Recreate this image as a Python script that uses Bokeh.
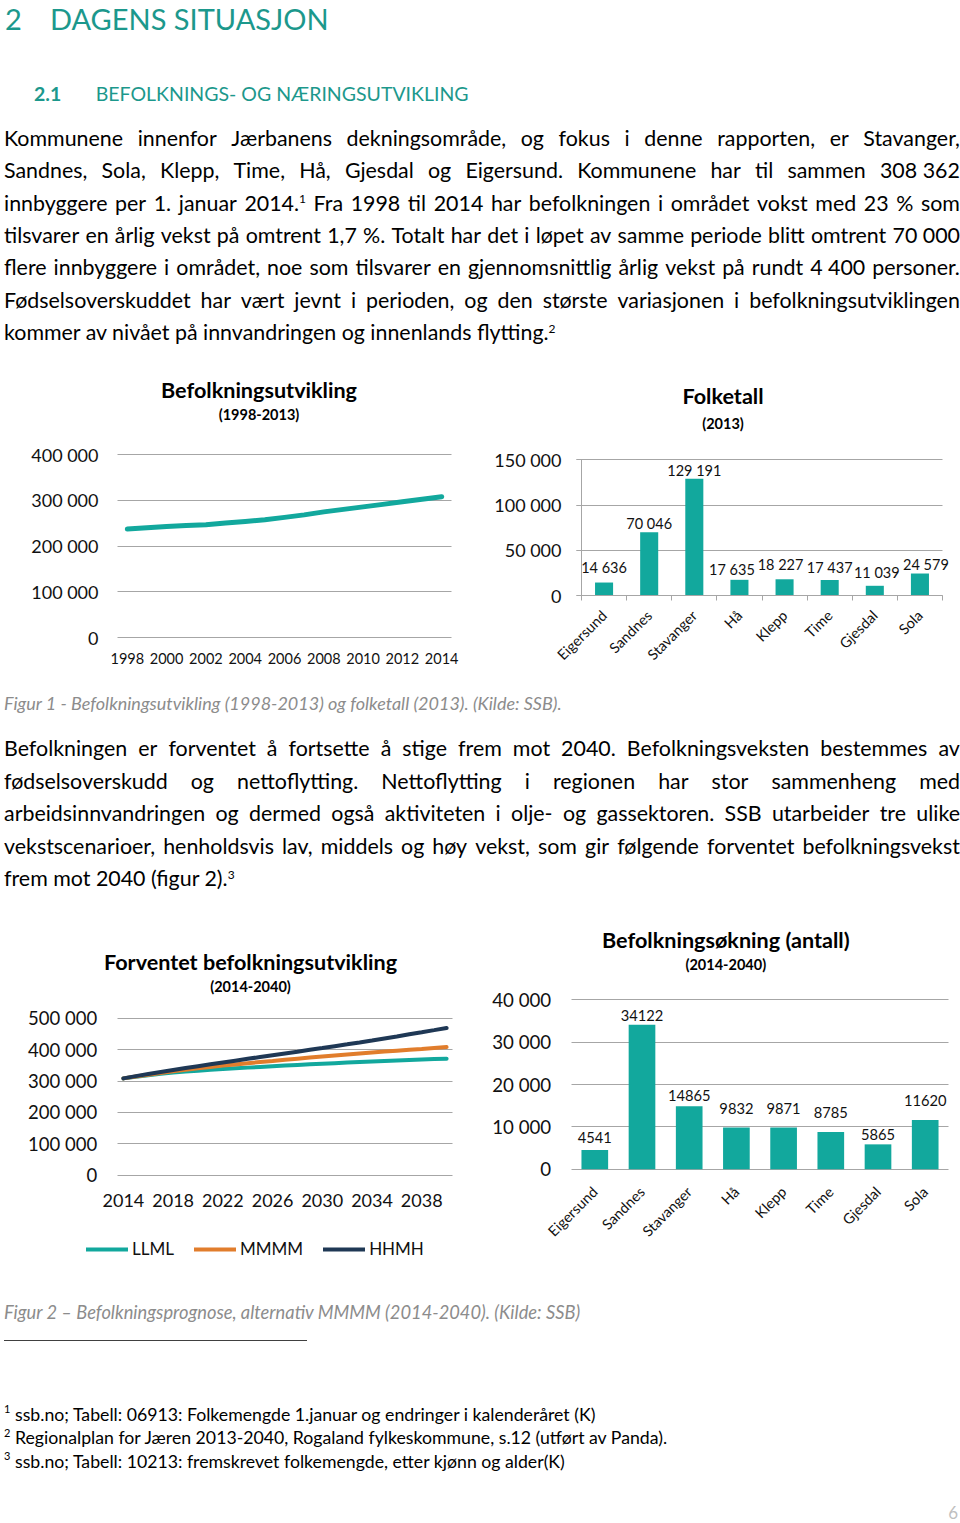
import math
from bokeh.plotting import figure
from bokeh.layouts import column, row
from bokeh.models import (Div, Range1d, FixedTicker, Label, LabelSet, ColumnDataSource,
                          Legend, LegendItem)
from bokeh.core.properties import value
from bokeh.embed import file_html
from bokeh.resources import INLINE

# ---------------- data ----------------
years1 = list(range(1998, 2015))
pop1 = [237500, 240500, 243000, 245000, 247000, 250500, 254000, 258000, 263000,
        268500, 275000, 280500, 286000, 291500, 297000, 302500, 308362]
x1_ticks = [1998, 2000, 2002, 2004, 2006, 2008, 2010, 2012, 2014]
y1_ticks = [0, 100000, 200000, 300000, 400000]
y1_labels = ["0", "100 000", "200 000", "300 000", "400 000"]

cats = ["Eigersund", "Sandnes", "Stavanger", "Hå", "Klepp", "Time", "Gjesdal", "Sola"]
folketall = [14636, 70046, 129191, 17635, 18227, 17437, 11039, 24579]
y2_ticks = [0, 50000, 100000, 150000]
y2_labels = ["0", "50 000", "100 000", "150 000"]

years3 = list(range(2014, 2041))
llml = [308362, 313600, 318500, 322900, 326900, 329900, 332800, 335500, 338000, 340300,
        342600, 344800, 346900, 349000, 351000, 353000, 355000, 356800, 358600, 360400,
        362100, 363700, 365300, 366800, 368300, 369800, 371200]
mmmm = [308362, 314300, 320000, 325600, 331000, 335800, 340400, 344800, 349000, 352900,
        356800, 360500, 364000, 367600, 371100, 374600, 378000, 381400, 384700, 387900,
        391000, 393900, 396700, 399400, 402000, 405000, 408000]
hhmh = [308362, 315500, 322300, 328800, 335000, 341100, 347100, 353100, 359000, 364800,
        370600, 376300, 382000, 387700, 393400, 399200, 405000, 410900, 416800, 422800,
        428900, 435400, 441900, 448600, 455300, 462100, 469000]
series3 = ["LLML", "MMMM", "HHMH"]
x3_ticks = [2014, 2018, 2022, 2026, 2030, 2034, 2038]
y3_ticks = [0, 100000, 200000, 300000, 400000, 500000]
y3_labels = ["0", "100 000", "200 000", "300 000", "400 000", "500 000"]

okning = [4541, 34122, 14865, 9832, 9871, 8785, 5865, 11620]
y4_ticks = [0, 10000, 20000, 30000, 40000]
y4_labels = ["0", "10 000", "20 000", "30 000", "40 000"]

# ---------------- style ----------------
TEAL = "#12A89D"
HEAD = "#1C988C"
ORANGE = "#E17D2C"
NAVY = "#1F3855"
GRID = "#A6A6A6"
INK = "#111111"
CAPTION = "#8C8C8C"
FONT = "Lato"
PAGE_W = 960

# bar value label nudges (pixels), as placed in the original
lab2_dx = [0, 0, 0, -7.5, -4, 0, 2, 6]
lab2_dy = [9.3, 3, 2.6, 4.7, 9.3, 6.7, 7.3, 3.3]
lab4_dy = [7, 4, 5.7, 13.8, 13.8, 13.5, 3.9, 13.8]

TITLE_LIFT = 7.5     # px correction for chart title baselines
SUB_LIFT = 5.0       # px correction for chart subtitle baselines


def lin(p0, v0, p1, v1):
    return lambda px: v0 + (px - p0) * (v1 - v0) / (p1 - p0)


def style_axis(ax, size, standoff):
    ax.axis_line_color = None
    ax.major_tick_line_color = None
    ax.minor_tick_line_color = None
    ax.major_tick_in = 0
    ax.major_tick_out = 0
    ax.minor_tick_in = 0
    ax.minor_tick_out = 0
    ax.major_label_text_font = FONT
    ax.major_label_text_font_size = size
    ax.major_label_text_color = INK
    ax.major_label_standoff = standoff


def make_fig(w, h, fx, fy):
    p = figure(width=w, height=h, x_range=Range1d(fx(0), fx(w)), y_range=Range1d(fy(h), fy(0)),
               output_backend="svg", toolbar_location=None,
               min_border_left=0, min_border_right=0, min_border_top=0, min_border_bottom=0)
    p.outline_line_color = None
    p.background_fill_color = "white"
    p.border_fill_color = "white"
    p.xgrid.visible = False
    p.ygrid.grid_line_color = GRID
    p.ygrid.grid_line_width = 1
    return p


def add_titles(p, fx, fy, xc, b1, t1, b2, t2):
    p.add_layout(Label(x=fx(xc), y=fy(b1 - TITLE_LIFT), text=t1, text_align="center",
                       text_baseline="alphabetic", text_font=FONT, text_font_style="bold",
                       text_font_size="21.6px", text_color="#000000"))
    p.add_layout(Label(x=fx(xc), y=fy(b2 - SUB_LIFT), text=t2, text_align="center",
                       text_baseline="alphabetic", text_font=FONT, text_font_style="bold",
                       text_font_size="14.5px", text_color="#000000"))


def fmt_space(v):
    return f"{v:,}".replace(",", " ")


# ---------------- chart 1 (local pixels: x = page x, y = page y - 355) ----------------
fx1 = lin(117, 1997.5, 451, 2014.5)
fy1 = lin(282, 0, 99.3, 400000)
p1 = make_fig(480, 330, fx1, fy1)
p1.line(years1, pop1, line_color=TEAL, line_width=5, line_cap="round", line_join="round")
p1.ygrid.cross_bounds = (1997.5, 2014.5)
ya1 = p1.yaxis[0]
ya1.ticker = FixedTicker(ticks=y1_ticks)
ya1.major_label_overrides = dict(zip(y1_ticks, y1_labels))
ya1.fixed_location = 1997.5
style_axis(ya1, "18px", 19)
xa1 = p1.xaxis[0]
xa1.ticker = FixedTicker(ticks=x1_ticks)
xa1.fixed_location = 0
style_axis(xa1, "14.5px", 15)
add_titles(p1, fx1, fy1, 258.5, 42.3, "Befolkningsutvikling", 64.3, "(1998-2013)")

# ---------------- chart 2 (local: x = page x - 480, y = page y - 355) ----------------
xs = [i + 0.5 for i in range(len(cats))]
fx2 = lin(101, 0, 462, len(cats))
fy2 = lin(240.3, 0, 104.3, 150000)
p2 = make_fig(480, 330, fx2, fy2)
src2 = ColumnDataSource(dict(x=xs, top=folketall, label=[fmt_space(v) for v in folketall],
                             dx=lab2_dx, dy=lab2_dy))
p2.vbar(x="x", top="top", width=0.4, source=src2, fill_color=TEAL, line_color=None)
p2.add_layout(LabelSet(x="x", y="top", text="label", source=src2, text_align="center",
                       text_baseline="alphabetic", x_offset="dx", y_offset="dy",
                       text_font=value(FONT), text_font_size=value("14.5px"), text_color=INK))
p2.ygrid.cross_bounds = (fx2(96), len(cats))
ya2 = p2.yaxis[0]
ya2.ticker = FixedTicker(ticks=y2_ticks)
ya2.major_label_overrides = dict(zip(y2_ticks, y2_labels))
ya2.fixed_location = 0
ya2.bounds = (0, 150000)
style_axis(ya2, "18px", 15)
ya2.axis_line_color = GRID
ya2.major_tick_line_color = GRID
ya2.major_tick_out = 5
xa2 = p2.xaxis[0]
xa2.ticker = FixedTicker(ticks=xs, minor_ticks=list(range(len(cats) + 1)))
xa2.major_label_overrides = dict(zip(xs, cats))
xa2.fixed_location = 0
xa2.bounds = (0, len(cats))
style_axis(xa2, "14.5px", 12)
xa2.axis_line_color = GRID
xa2.minor_tick_line_color = GRID
xa2.minor_tick_out = 5
xa2.major_label_orientation = math.pi / 4
add_titles(p2, fx2, fy2, 242.5, 48.3, "Folketall", 73.3, "(2013)")

# ---------------- chart 3 (local: x = page x, y = page y - 915) ----------------
fx3 = lin(116.7, 2013.5, 452.3, 2040.5)
fy3 = lin(259.7, 0, 102.7, 500000)
p3 = make_fig(480, 360, fx3, fy3)
r_l = p3.line(years3, llml, line_color=TEAL, line_width=4, line_cap="round")
r_m = p3.line(years3, mmmm, line_color=ORANGE, line_width=4, line_cap="round")
r_h = p3.line(years3, hhmh, line_color=NAVY, line_width=4, line_cap="round")
p3.ygrid.cross_bounds = (2013.5, 2040.5)
ya3 = p3.yaxis[0]
ya3.ticker = FixedTicker(ticks=y3_ticks)
ya3.major_label_overrides = dict(zip(y3_ticks, y3_labels))
ya3.fixed_location = 2013.5
style_axis(ya3, "18.5px", 20)
xa3 = p3.xaxis[0]
xa3.ticker = FixedTicker(ticks=x3_ticks)
xa3.fixed_location = 0
style_axis(xa3, "18px", 19)
legend = Legend(items=[LegendItem(label=n, renderers=[r]) for n, r in zip(series3, [r_l, r_m, r_h])],
                location=(86, 16), orientation="horizontal", glyph_width=42, glyph_height=20,
                label_standoff=4, spacing=20, padding=0, margin=0, border_line_color=None,
                background_fill_alpha=0, label_text_font=FONT, label_text_font_size="17px",
                label_text_color=INK)
p3.add_layout(legend)
add_titles(p3, fx3, fy3, 250, 54.3, "Forventet befolkningsutvikling", 75.7, "(2014-2040)")

# ---------------- chart 4 (local: x = page x - 480, y = page y - 915) ----------------
fx4 = lin(90.7, 0, 468.3, len(cats))
fy4 = lin(253.7, 0, 84.3, 40000)
p4 = make_fig(480, 360, fx4, fy4)
src4 = ColumnDataSource(dict(x=xs, top=okning, label=[str(v) for v in okning], dy=lab4_dy))
p4.vbar(x="x", top="top", width=0.565, source=src4, fill_color=TEAL, line_color=None)
p4.add_layout(LabelSet(x="x", y="top", text="label", source=src4, text_align="center",
                       text_baseline="alphabetic", y_offset="dy", text_font=value(FONT),
                       text_font_size=value("14.7px"), text_color=INK))
p4.ygrid.cross_bounds = (0, len(cats))
ya4 = p4.yaxis[0]
ya4.ticker = FixedTicker(ticks=y4_ticks)
ya4.major_label_overrides = dict(zip(y4_ticks, y4_labels))
ya4.fixed_location = 0
style_axis(ya4, "18.7px", 20)
xa4 = p4.xaxis[0]
xa4.ticker = FixedTicker(ticks=xs)
xa4.major_label_overrides = dict(zip(xs, cats))
xa4.fixed_location = 0
style_axis(xa4, "14.5px", 20)
xa4.major_label_orientation = math.pi / 4
add_titles(p4, fx4, fy4, 245.3, 31.7, "Befolkningsøkning (antall)", 53.7, "(2014-2040)")

# ---------------- text blocks ----------------
ASC = 0.887  # baseline offset (em) for line-height:1 with Lato
BODY_F = 21.4
LINE_H = 32.4


def top_for(baseline, F):
    return baseline - ASC * F


def sup_html(n, F):
    return (f'<span style="font-size:{F * 0.56:.1f}px;position:relative;'
            f'top:-{F * 0.34:.1f}px;">{n}</span>')


def words_of(text, F):
    out = []
    for w in text.split(" "):
        for n in "123":
            w = w.replace("^" + n, sup_html(n, F))
        out.append(w)
    return out


def line_div(text, baseline, F, justify=True, left=4, width=956):
    t = top_for(baseline, F)
    ws = words_of(text, F)
    if justify:
        spans = "".join(f"<span>{w}</span>" for w in ws)
        return (f'<div style="position:absolute;left:{left}px;top:{t:.1f}px;width:{width}px;display:flex;'
                f'justify-content:space-between;align-items:baseline;column-gap:3px;white-space:nowrap;'
                f'font-size:{F}px;line-height:1;">{spans}</div>')
    return (f'<div style="position:absolute;left:{left}px;top:{t:.1f}px;white-space:nowrap;'
            f'font-size:{F}px;line-height:1;">{" ".join(ws)}</div>')


def abs_text(text, x, baseline, F, extra=""):
    return (f'<div style="position:absolute;left:{x}px;top:{top_for(baseline, F):.1f}px;'
            f'font-size:{F}px;line-height:1;white-space:nowrap;{extra}">{text}</div>')


def block(inner, h):
    html = (f'<div style="position:relative;width:{PAGE_W}px;height:{h}px;overflow:hidden;'
            f'font-family:Lato,sans-serif;color:#000;">{inner}</div>')
    return Div(text=html, width=PAGE_W, height=h, margin=0)


heading = "DAGENS SITUASJON"
section = "BEFOLKNINGS- OG NÆRINGSUTVIKLING"
para1 = [
    "Kommunene innenfor Jærbanens dekningsområde, og fokus i denne rapporten, er Stavanger,",
    "Sandnes, Sola, Klepp, Time, Hå, Gjesdal og Eigersund. Kommunene har til sammen 308\u00a0362",
    "innbyggere per 1. januar 2014.^1 Fra 1998 til 2014 har befolkningen i området vokst med 23 % som",
    "tilsvarer en årlig vekst på omtrent 1,7 %. Totalt har det i løpet av samme periode blitt omtrent 70\u00a0000",
    "flere innbyggere i området, noe som tilsvarer en gjennomsnittlig årlig vekst på rundt 4\u00a0400 personer.",
    "Fødselsoverskuddet har vært jevnt i perioden, og den største variasjonen i befolkningsutviklingen",
    "kommer av nivået på innvandringen og innenlands flytting.^2",
]
para2 = [
    "Befolkningen er forventet å fortsette å stige frem mot 2040. Befolkningsveksten bestemmes av",
    "fødselsoverskudd og nettoflytting. Nettoflytting i regionen har stor sammenheng med",
    "arbeidsinnvandringen og dermed også aktiviteten i olje- og gassektoren. SSB utarbeider tre ulike",
    "vekstscenarioer, henholdsvis lav, middels og høy vekst, som gir følgende forventet befolkningsvekst",
    "frem mot 2040 (figur 2).^3",
]
footnotes = [
    "ssb.no; Tabell: 06913: Folkemengde 1.januar og endringer i kalenderåret (K)",
    "Regionalplan for Jæren 2013-2040, Rogaland fylkeskommune, s.12 (utført av Panda).",
    "ssb.no; Tabell: 10213: fremskrevet folkemengde, etter kjønn og alder(K)",
]
caption1 = "Figur 1 - Befolkningsutvikling (1998-2013) og folketall (2013). (Kilde: SSB)."
caption2 = "Figur 2 \u2013 Befolkningsprognose, alternativ MMMM (2014-2040). (Kilde: SSB)"

# block A : page y 0 .. 355
hA = 355
a = [abs_text("2", 5, 29.3, 29, f"color:{HEAD};"),
     abs_text(heading, 50, 29.3, 29, f"color:{HEAD};"),
     abs_text("2.1", 34, 101.7, 19.5, f"color:{HEAD};font-weight:bold;"),
     abs_text(section, 95.7, 101.7, 19.5, f"color:{HEAD};")]
for k, ln in enumerate(para1):
    a.append(line_div(ln, 146.7 + k * LINE_H, BODY_F, justify=(k < len(para1) - 1)))
divA = block("".join(a), hA)

# block C : page y 685 .. 915
hC = 230
CF = 18
c = [abs_text(caption1, 4, 24.5, CF, f"color:{CAPTION};font-style:italic;")]
for k, ln in enumerate(para2):
    c.append(line_div(ln, 72.3 + k * LINE_H, BODY_F, justify=(k < len(para2) - 1)))
divC = block("".join(c), hC)

# block E : page y 1275 .. 1523
hE = 248
FF = 17.7
e = [abs_text(caption2, 4, 44.3, 18.3, f"color:{CAPTION};font-style:italic;"),
     '<div style="position:absolute;left:4px;top:65px;width:303px;height:1px;background:#404040;"></div>']
for k, ln in enumerate(footnotes):
    b = 146.7 + k * 23.3
    e.append(abs_text(str(k + 1), 4, b - 8.5, 11))
    e.append(abs_text(ln, 15, b, FF))
e.append(f'<div style="position:absolute;right:2px;top:{top_for(244, 17):.1f}px;font-size:17px;'
         f'line-height:1;color:#BFBFBF;white-space:nowrap;">6</div>')
divE = block("".join(e), hE)

root = column(divA,
              row(p1, p2, spacing=0),
              divC,
              row(p3, p4, spacing=0),
              divE,
              spacing=0)

with open("out.html", "w", encoding="utf-8") as f:
    f.write(file_html(root, INLINE))
